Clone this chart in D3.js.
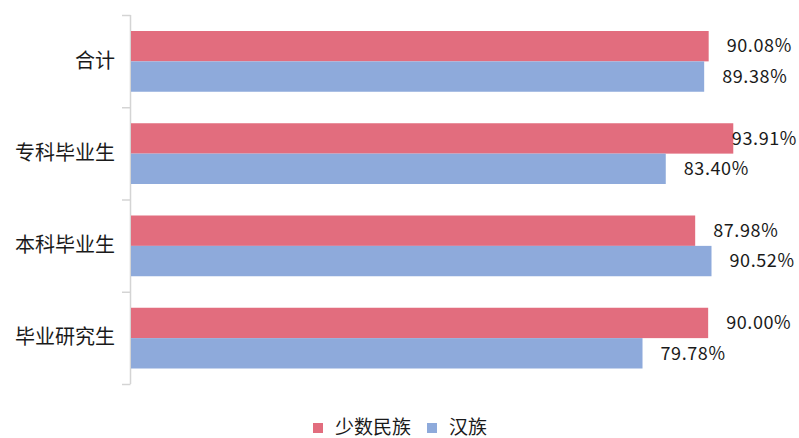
<!DOCTYPE html>
<html>
<head>
<meta charset="utf-8">
<script src="https://cdn.jsdelivr.net/npm/d3@7"></script>
<style>
  body { margin: 0; background: #fff; }
  text { font-family: "Noto Sans CJK SC", "Noto Sans", sans-serif; fill: #1a1a1a; }
</style>
</head>
<body>
<div id="chart"></div>
<script>
const categories = ["合计", "专科毕业生", "本科毕业生", "毕业研究生"];
const seriesNames = ["少数民族", "汉族"];
const minority = [90.08, 93.91, 87.98, 90.00];
const han = [89.38, 83.40, 90.52, 79.78];
const colors = ["#e26d7e", "#8eaadb"];

const width = 799, height = 438;

const svg = d3.select("#chart")
  .append("svg")
  .attr("width", width)
  .attr("height", height);

// value scale: 0..100 across the plot area
const x = d3.scaleLinear().domain([0, 100]).range([130, 772.4]);

const y0 = d3.scaleBand()
  .domain(categories)
  .range([15, 384])
  .padding(0);

const y1 = d3.scaleBand()
  .domain(seriesNames)
  .range([16, y0.bandwidth() - 15.5])
  .padding(0);

const color = d3.scaleOrdinal().domain(seriesNames).range(colors);

const rows = categories.map((c, i) => ({
  cat: c,
  values: [
    { key: seriesNames[0], value: minority[i] },
    { key: seriesNames[1], value: han[i] }
  ]
}));

// category labels
const axis = d3.axisLeft(y0).tickSize(0).tickPadding(15);
const gAxis = svg.append("g")
  .attr("transform", "translate(130,0)")
  .call(axis);
gAxis.select(".domain").remove();
gAxis.selectAll("text")
  .style("font-size", "20px")
  .attr("fill", "#1a1a1a");

// axis line + ticks at band edges
svg.append("line")
  .attr("x1", 130.5).attr("x2", 130.5)
  .attr("y1", 15).attr("y2", 384)
  .attr("stroke", "#d4d4d4")
  .attr("stroke-width", 1.5);

svg.selectAll("tickMarks")
  .data(categories.concat(["_end"]))
  .join("line")
  .attr("x1", 122).attr("x2", 130.5)
  .attr("y1", (d, i) => 15 + i * y0.step() + 0.5)
  .attr("y2", (d, i) => 15 + i * y0.step() + 0.5)
  .attr("stroke", "#d4d4d4")
  .attr("stroke-width", 1.5);

// bars
const groups = svg.selectAll("g.cat")
  .data(rows)
  .join("g")
  .attr("class", "cat")
  .attr("transform", (d) => `translate(0,${y0(d.cat)})`);

groups.selectAll("rect")
  .data((d) => d.values)
  .join("rect")
  .attr("x", x(0) + 1)
  .attr("y", (d) => y1(d.key))
  .attr("width", (d) => x(d.value) - x(0) - 1)
  .attr("height", y1.bandwidth())
  .attr("fill", (d) => color(d.key));

// value labels (pushed left if they would run off the right edge)
groups.selectAll("text.val")
  .data((d) => d.values)
  .join("text")
  .attr("class", "val")
  .attr("y", (d) => y1(d.key) + y1.bandwidth() / 2)
  .attr("dy", "0.35em")
  .style("font-size", "18px")
  .style("letter-spacing", "0.6px")
  .text((d) => d.value.toFixed(2) + "%")
  .attr("x", function (d) {
    const w = this.getComputedTextLength();
    return Math.min(x(d.value) + 18, width - 2 - w);
  });

// legend
const legend = svg.append("g");
const legendItems = [
  { key: seriesNames[0], x: 313 },
  { key: seriesNames[1], x: 427 }
];
legend.selectAll("rect")
  .data(legendItems)
  .join("rect")
  .attr("x", (d) => d.x)
  .attr("y", 423)
  .attr("width", 10)
  .attr("height", 10)
  .attr("fill", (d) => color(d.key));
legend.selectAll("text")
  .data(legendItems)
  .join("text")
  .attr("x", (d) => d.x + 22)
  .attr("y", 427)
  .attr("dy", "0.35em")
  .style("font-size", "19px")
  .text((d) => d.key);
</script>
</body>
</html>
